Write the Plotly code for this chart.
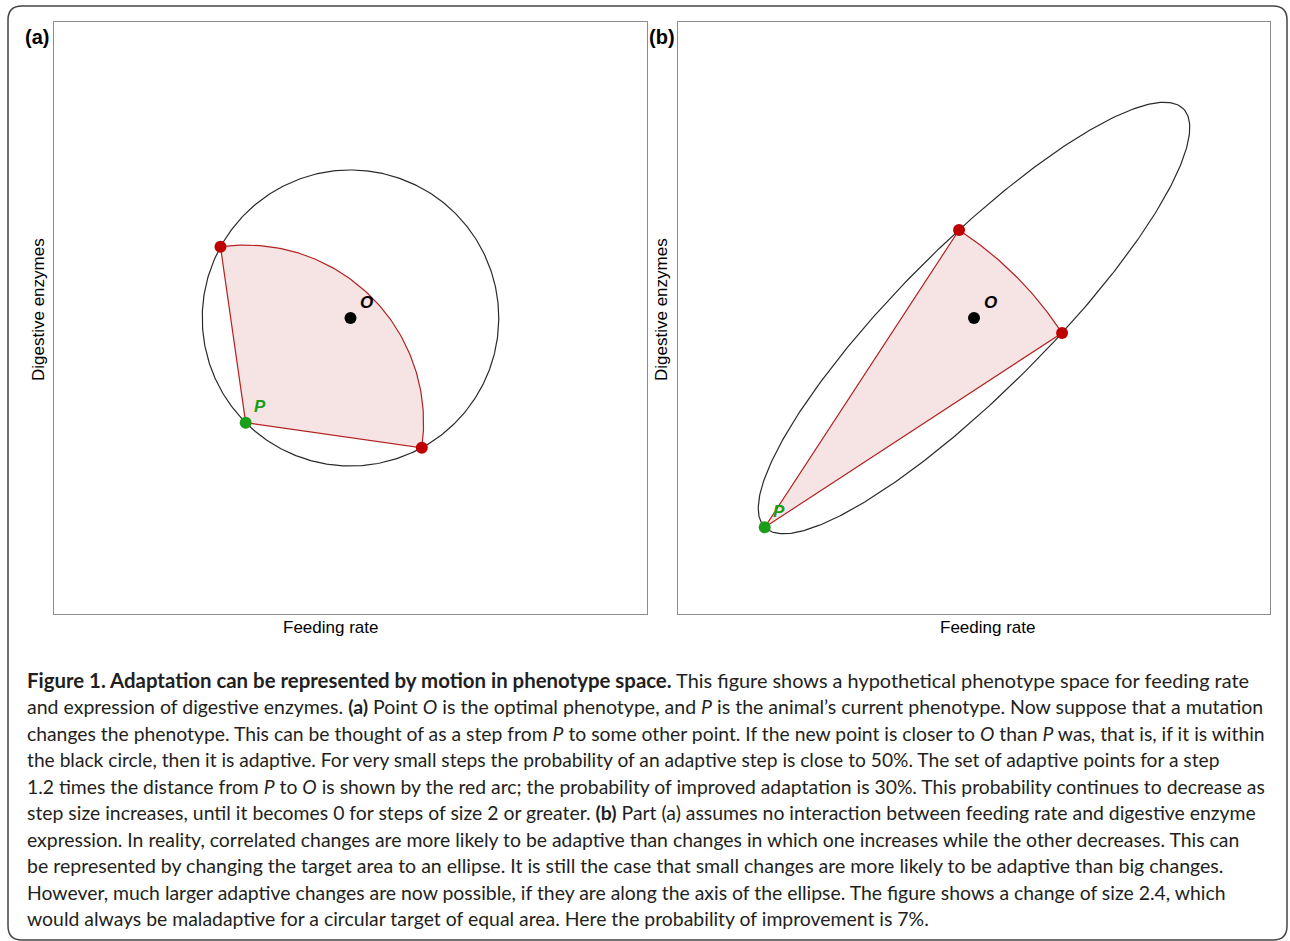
import numpy as np
import plotly.graph_objects as go

W, H = 1290, 941

# ---------------- data ----------------
optimum = [0.0, 0.0]
# panel (a): circular target
current_a = [-0.7071, -0.7071]
radius_a = 1.0
step_a = 1.2
ends_a_x = [-0.877, 0.481]
ends_a_y = [0.481, -0.877]
# panel (b): elliptical target
current_b = [-1.4142, -1.4142]
semi_major_b = 2.0
semi_minor_b = 0.5
angle_b_deg = 45.0
step_b = 2.4
ends_b_x = [-0.101, 0.595]
ends_b_y = [0.595, -0.101]

axis_range = [-2, 2]
x_title = "Feeding rate"
y_title = "Digestive enzymes"
panel_labels = ["(a)", "(b)"]

caption_lines = [
    "<b><span style='font-size:20.4px'>Figure 1. Adaptation can be represented by motion in phenotype space.</span></b> This figure shows a hypothetical phenotype space for feeding rate",
    "and expression of digestive enzymes. <b>(a)</b> Point <i>O</i> is the optimal phenotype, and <i>P</i> is the animal\u2019s current phenotype. Now suppose that a mutation",
    "changes the phenotype. This can be thought of as a step from <i>P</i> to some other point. If the new point is closer to <i>O</i> than <i>P</i> was, that is, if it is within",
    "the black circle, then it is adaptive. For very small steps the probability of an adaptive step is close to 50%. The set of adaptive points for a step",
    "1.2 times the distance from <i>P</i> to <i>O</i> is shown by the red arc; the probability of improved adaptation is 30%. This probability continues to decrease as",
    "step size increases, until it becomes 0 for steps of size 2 or greater. <b>(b)</b> Part (a) assumes no interaction between feeding rate and digestive enzyme",
    "expression. In reality, correlated changes are more likely to be adaptive than changes in which one increases while the other decreases. This can",
    "be represented by changing the target area to an ellipse. It is still the case that small changes are more likely to be adaptive than big changes.",
    "However, much larger adaptive changes are now possible, if they are along the axis of the ellipse. The figure shows a change of size 2.4, which",
    "would always be maladaptive for a circular target of equal area. Here the probability of improvement is 7%.",
]

# ---------------- style ----------------
TARGET_COLOR = "#2a2a2a"
EDGE_COLOR = "#b22222"
FILL_COLOR = "rgba(178,34,34,0.12)"
DOT_RED = "#bf0000"
DOT_GREEN = "#1a9e1a"
TEXT_COLOR = "#231f20"
FRAME_COLOR = "#8c8c8c"
caption_sizes = [19.9, 19.52, 19.33, 19.2, 19.33, 19.4, 19.4, 19.53, 19.4, 19.4]

px_x = lambda p: p / W
px_y = lambda p: 1 - p / H

fig = go.Figure()


def ellipse_pts(cx, cy, a, b, ang_deg, n=400):
    t = np.linspace(0, 2 * np.pi, n)
    th = np.deg2rad(ang_deg)
    x = cx + a * np.cos(t) * np.cos(th) - b * np.sin(t) * np.sin(th)
    y = cy + a * np.cos(t) * np.sin(th) + b * np.sin(t) * np.cos(th)
    return x, y


def wedge_pts(p, ex, ey, r, n=120):
    a1 = np.arctan2(ey[0] - p[1], ex[0] - p[0])
    a2 = np.arctan2(ey[1] - p[1], ex[1] - p[0])
    ang = np.linspace(a1, a2, n)
    xs = np.concatenate([[p[0]], p[0] + r * np.cos(ang), [p[0]]])
    ys = np.concatenate([[p[1]], p[1] + r * np.sin(ang), [p[1]]])
    return xs, ys


panels = [
    dict(xa="x", ya="y", cur=current_a, a=radius_a, b=radius_a, ang=0.0,
         step=step_a, ex=ends_a_x, ey=ends_a_y),
    dict(xa="x2", ya="y2", cur=current_b, a=semi_major_b, b=semi_minor_b,
         ang=angle_b_deg, step=step_b, ex=ends_b_x, ey=ends_b_y),
]

for pn in panels:
    ex_, ey_ = ellipse_pts(optimum[0], optimum[1], pn["a"], pn["b"], pn["ang"])
    fig.add_trace(go.Scatter(x=ex_, y=ey_, mode="lines", xaxis=pn["xa"], yaxis=pn["ya"],
                             line=dict(color=TARGET_COLOR, width=1.2), hoverinfo="skip",
                             showlegend=False))
    wx, wy = wedge_pts(pn["cur"], pn["ex"], pn["ey"], pn["step"])
    fig.add_trace(go.Scatter(x=wx, y=wy, mode="lines", fill="toself", fillcolor=FILL_COLOR,
                             xaxis=pn["xa"], yaxis=pn["ya"],
                             line=dict(color=EDGE_COLOR, width=1.2), hoverinfo="skip",
                             showlegend=False))
    fig.add_trace(go.Scatter(x=pn["ex"], y=pn["ey"], mode="markers", xaxis=pn["xa"], yaxis=pn["ya"],
                             marker=dict(color=DOT_RED, size=12), showlegend=False))
    fig.add_trace(go.Scatter(x=[pn["cur"][0]], y=[pn["cur"][1]], mode="markers",
                             xaxis=pn["xa"], yaxis=pn["ya"],
                             marker=dict(color=DOT_GREEN, size=12), showlegend=False))
    fig.add_trace(go.Scatter(x=[optimum[0]], y=[optimum[1]], mode="markers",
                             xaxis=pn["xa"], yaxis=pn["ya"],
                             marker=dict(color="black", size=12), showlegend=False))
    fig.add_annotation(x=optimum[0], y=optimum[1], xref=pn["xa"], yref=pn["ya"], text="<b><i>O</i></b>",
                       showarrow=False, xshift=16, yshift=16,
                       font=dict(family="Liberation Sans, Arial", size=17, color="black"))
    fig.add_annotation(x=pn["cur"][0], y=pn["cur"][1], xref=pn["xa"], yref=pn["ya"], text="<b><i>P</i></b>",
                       showarrow=False, xshift=14, yshift=16,
                       font=dict(family="Liberation Sans, Arial", size=17, color=DOT_GREEN))

ax_common = dict(range=axis_range, showgrid=False, zeroline=False, showticklabels=False,
                 ticks="", showline=True, mirror=True, linecolor=FRAME_COLOR, linewidth=1,
                 fixedrange=True)
ydom = [px_y(614), px_y(22)]
fig.update_layout(
    xaxis=dict(domain=[px_x(54), px_x(647)], anchor="y", **ax_common),
    yaxis=dict(domain=ydom, anchor="x", **ax_common),
    xaxis2=dict(domain=[px_x(678), px_x(1270)], anchor="y2", **ax_common),
    yaxis2=dict(domain=ydom, anchor="x2", **ax_common),
)

# axis titles & panel labels
lab_font = dict(family="Liberation Sans, Arial", size=17, color="black")
for cx in [330, 987]:
    fig.add_annotation(x=px_x(cx), y=px_y(627), xref="paper", yref="paper", text=x_title,
                       showarrow=False, xanchor="center", yanchor="middle", font=lab_font)
for cx in [38, 661]:
    fig.add_annotation(x=px_x(cx), y=px_y(310), xref="paper", yref="paper", text=y_title,
                       showarrow=False, textangle=-90, xanchor="center", yanchor="middle", font=lab_font)
for cx, lab in zip([37, 662], panel_labels):
    fig.add_annotation(x=px_x(cx), y=px_y(37), xref="paper", yref="paper", text="<b>%s</b>" % lab,
                       showarrow=False, xanchor="center", yanchor="middle",
                       font=dict(family="Liberation Sans, Arial", size=20, color="black"))

# caption
cap_y0, cap_dy = 680, 26.55
for i, line in enumerate(caption_lines):
    fig.add_annotation(x=px_x(25), y=px_y(cap_y0 + i * cap_dy), xref="paper", yref="paper",
                       text=line, showarrow=False, xanchor="left", yanchor="middle", align="left",
                       font=dict(family="Lato", size=caption_sizes[i], color=TEXT_COLOR))

# outer rounded frame
L, T, R, B, rad = 8, 6, 1287, 940, 14
path = (f"M {px_x(L)},{px_y(T + rad)} Q {px_x(L)},{px_y(T)} {px_x(L + rad)},{px_y(T)} "
        f"L {px_x(R - rad)},{px_y(T)} Q {px_x(R)},{px_y(T)} {px_x(R)},{px_y(T + rad)} "
        f"L {px_x(R)},{px_y(B - rad)} Q {px_x(R)},{px_y(B)} {px_x(R - rad)},{px_y(B)} "
        f"L {px_x(L + rad)},{px_y(B)} Q {px_x(L)},{px_y(B)} {px_x(L)},{px_y(B - rad)} Z")
fig.add_shape(type="path", path=path, xref="paper", yref="paper",
              line=dict(color="#444444", width=1.5))

fig.update_layout(width=W, height=H, margin=dict(l=0, r=0, t=0, b=0),
                  paper_bgcolor="white", plot_bgcolor="white", showlegend=False)

fig.write_html("out.html", config={"displayModeBar": False},
               post_script="document.body.style.margin='0px';document.body.style.overflow='hidden';")
